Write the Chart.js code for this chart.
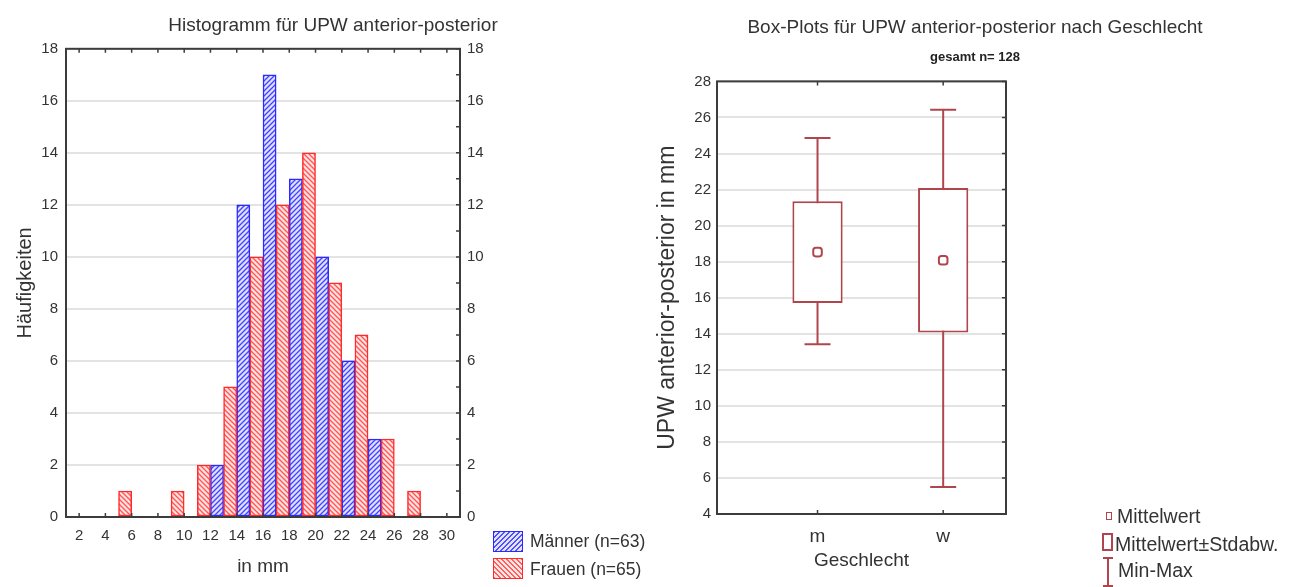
<!DOCTYPE html>
<html>
<head>
<meta charset="utf-8">
<script src="https://cdn.jsdelivr.net/npm/chart.js@4.4.1/dist/chart.umd.min.js"></script>
<style>
  html, body { margin: 0; padding: 0; background: #fff; overflow: hidden; }
  #wrap { position: relative; width: 1289px; height: 587px; overflow: hidden;
          font-family: 'Liberation Sans', Arial, sans-serif; color: #333; }
  #c1 { position: absolute; left: 0; top: 0; }
  #c2 { position: absolute; left: 650px; top: 0; }
  .lg { position: absolute; white-space: nowrap; line-height: 1; }
  .hicon { position: absolute; box-sizing: border-box; width: 30px; height: 21px; }
  .hblue { border: 1.5px solid #2a2aff;
           background: repeating-linear-gradient(-45deg, #5050ff 0 1.4px, #e2e2ff 1.4px 3.6px); }
  .hred  { border: 1.5px solid #ff2a2a;
           background: repeating-linear-gradient(45deg, #ff6060 0 1.4px, #ffe4e4 1.4px 3.6px); }
</style>
</head>
<body>
<div id="wrap">
  <canvas id="c1" width="666" height="587"></canvas>
  <canvas id="c2" width="650" height="587"></canvas>

  <!-- histogram legend -->
  <div class="hicon hblue" style="left:493px; top:531px;"></div>
  <div class="lg" style="left:530px; top:533px; font-size:17.5px;">Männer (n=63)</div>
  <div class="hicon hred" style="left:493px; top:558px;"></div>
  <div class="lg" style="left:530px; top:561px; font-size:17.5px;">Frauen (n=65)</div>

  <!-- box plot legend -->
  <div style="position:absolute; left:1106px; top:512px; width:6px; height:8px; box-sizing:border-box; border:1.8px solid #b0454d;"></div>
  <div class="lg" style="left:1117px; top:507px; font-size:19.5px;">Mittelwert</div>
  <div style="position:absolute; left:1102px; top:533px; width:11px; height:18px; box-sizing:border-box; border:2px solid #b0454d;"></div>
  <div class="lg" style="left:1115px; top:535px; font-size:19.5px;">Mittelwert±Stdabw.</div>
  <svg style="position:absolute; left:1101px; top:556px;" width="14" height="31">
    <path d="M2 2 H12 M7 2 V30 M2 30 H12" stroke="#b0454d" stroke-width="2" fill="none"/>
  </svg>
  <div class="lg" style="left:1118px; top:561px; font-size:19.5px;">Min-Max</div>
</div>

<script>
// ---------------- data ----------------
const histCategories = [2, 4, 6, 8, 10, 12, 14, 16, 18, 20, 22, 24, 26, 28, 30];
const frauenCounts   = [0, 0, 1, 0, 1, 2, 5, 10, 12, 14, 9, 7, 3, 1, 0];
const maennerCounts  = [0, 0, 0, 0, 0, 2, 12, 17, 13, 10, 6, 3, 0, 0, 0];
const histSeriesNames = ['Frauen (n=65)', 'Männer (n=63)'];

const boxGroups  = ['m', 'w'];
const boxMean    = [18.53, 18.08];
const boxSdLow   = [15.71, 14.07];
const boxSdHigh  = [21.35, 22.09];
const boxMin     = [13.42, 5.50];
const boxMax     = [24.86, 26.43];

// ---------------- common ----------------
Chart.defaults.font.family = "'Liberation Sans', Arial, sans-serif";
Chart.defaults.color = '#333';
const TXT = '#333';
const FRAME = '#3c3c3c';
const GRID = '#e3e3e3';
const BOX = '#b0454d';

function hatch(ctxTarget, line, bg, dir) {
  const s = 5;
  const c = document.createElement('canvas');
  c.width = s; c.height = s;
  const g = c.getContext('2d');
  g.fillStyle = bg; g.fillRect(0, 0, s, s);
  g.strokeStyle = line; g.lineWidth = 1.35;
  g.beginPath();
  if (dir > 0) {           // '/'
    g.moveTo(-1, s + 1); g.lineTo(s + 1, -1);
    g.moveTo(-1, 1); g.lineTo(1, -1);
    g.moveTo(s - 1, s + 1); g.lineTo(s + 1, s - 1);
  } else {                 // '\'
    g.moveTo(-1, -1); g.lineTo(s + 1, s + 1);
    g.moveTo(s - 1, -1); g.lineTo(s + 1, 1);
    g.moveTo(-1, s - 1); g.lineTo(1, s + 1);
  }
  g.stroke();
  return ctxTarget.createPattern(c, 'repeat');
}

// frame + inward tick marks around the plot area
const framePlugin = {
  id: 'frame',
  afterDatasetsDraw(chart, args, opts) {
    const { ctx, chartArea: a } = chart;
    ctx.save();
    ctx.strokeStyle = FRAME;
    ctx.lineWidth = 2;
    ctx.strokeRect(a.left, a.top, a.right - a.left, a.bottom - a.top);
    ctx.lineWidth = 1.5;
    ctx.beginPath();
    const xs = chart.scales.x;
    xs.ticks.forEach((t, i) => {
      const px = xs.getPixelForTick(i);
      ctx.moveTo(px, a.top); ctx.lineTo(px, a.top + 4);
      ctx.moveTo(px, a.bottom); ctx.lineTo(px, a.bottom - 4);
    });
    const ys = chart.scales.y;
    const step = opts.yMinorStep || 2;
    for (let v = ys.min; v <= ys.max + 1e-9; v += step) {
      const py = ys.getPixelForValue(v);
      ctx.moveTo(a.right, py); ctx.lineTo(a.right - 4, py);
    }
    ctx.stroke();
    ctx.restore();
  }
};

// ---------------- histogram ----------------
const c1 = document.getElementById('c1');
const ctx1 = c1.getContext('2d');
const bluePat = hatch(ctx1, '#4444ff', '#e0e0ff', 1);
const redPat  = hatch(ctx1, '#ff5555', '#ffe2e2', -1);

new Chart(c1, {
  type: 'bar',
  data: {
    labels: histCategories,
    datasets: [
      {
        label: histSeriesNames[0], data: frauenCounts,
        backgroundColor: redPat, borderColor: '#ff2a2a',
        borderWidth: c => (c.raw ? 1.5 : 0), borderSkipped: false,
        categoryPercentage: 1, barPercentage: 1
      },
      {
        label: histSeriesNames[1], data: maennerCounts,
        backgroundColor: bluePat, borderColor: '#2a2aff',
        borderWidth: c => (c.raw ? 1.5 : 0), borderSkipped: false,
        categoryPercentage: 1, barPercentage: 1
      }
    ]
  },
  options: {
    responsive: false, animation: false, devicePixelRatio: 1, events: [],
    layout: { padding: 0 },
    plugins: {
      legend: { display: false },
      tooltip: { enabled: false },
      title: {
        display: true, text: 'Histogramm für UPW anterior-posterior',
        color: TXT, font: { size: 19, weight: 'normal' },
        padding: { top: 14, bottom: 12 }
      },
      frame: { yMinorStep: 1 }
    },
    scales: {
      x: {
        type: 'category', offset: true,
        grid: { display: false, drawTicks: false },
        border: { display: false },
        ticks: { color: TXT, font: { size: 15 }, padding: 10, maxRotation: 0, autoSkip: false },
        title: { display: true, text: 'in mm', color: TXT, font: { size: 19 }, padding: { top: 0, bottom: 9 } },
        afterFit: s => { s.height = 70; }
      },
      y: {
        position: 'left', min: 0, max: 18,
        grid: { color: GRID, lineWidth: 2, drawTicks: false },
        border: { display: false },
        ticks: { stepSize: 2, color: TXT, font: { size: 15 }, padding: 8 },
        title: { display: true, text: 'Häufigkeiten', color: TXT, font: { size: 20 }, padding: { top: 13, bottom: 0 } },
        afterFit: s => { s.width = 66; }
      },
      y2: {
        position: 'right', min: 0, max: 18,
        grid: { drawOnChartArea: false, drawTicks: false },
        border: { display: false },
        ticks: { stepSize: 2, color: TXT, font: { size: 15 }, padding: 7 },
        afterFit: s => { s.width = 206; }
      }
    }
  },
  plugins: [framePlugin]
});

// ---------------- box plot ----------------
const boxCenters = boxGroups.map((g, i) => i + 1);
const whiskerData = boxCenters.flatMap((x, i) => {
  const seg = [{ x, y: boxMin[i] }, { x, y: boxMax[i] }];
  return i < boxCenters.length - 1 ? seg.concat([{ x: x + 0.5, y: null }]) : seg;
});

new Chart(document.getElementById('c2'), {
  type: 'bar',
  data: {
    datasets: [
      {
        type: 'bar', label: 'Mittelwert±Stdabw.',
        data: boxCenters.map((x, i) => ({ x, y: [boxSdLow[i], boxSdHigh[i]] })),
        backgroundColor: '#ffffff', borderColor: BOX, borderWidth: 2, borderSkipped: false,
        categoryPercentage: 1, barPercentage: 0.4, order: 2
      },
      {
        type: 'scatter', label: 'Min-Max', data: whiskerData,
        showLine: true, spanGaps: false, borderColor: BOX, borderWidth: 2,
        pointRadius: 0, order: 3
      },
      {
        type: 'scatter', label: 'Min-Max caps',
        data: boxCenters.flatMap((x, i) => [{ x, y: boxMin[i] }, { x, y: boxMax[i] }]),
        showLine: false, pointStyle: 'line', pointRadius: 13,
        pointBorderColor: BOX, pointBorderWidth: 2, order: 1
      },
      {
        type: 'scatter', label: 'Mittelwert',
        data: boxCenters.map((x, i) => ({ x, y: boxMean[i] })),
        showLine: false, pointStyle: 'rectRounded', pointRadius: 5,
        pointBackgroundColor: '#ffffff', pointBorderColor: BOX, pointBorderWidth: 2, order: 0
      }
    ]
  },
  options: {
    responsive: false, animation: false, devicePixelRatio: 1, events: [],
    layout: { padding: 0 },
    plugins: {
      legend: { display: false },
      tooltip: { enabled: false },
      title: {
        display: true, text: 'Box-Plots für UPW anterior-posterior nach Geschlecht',
        color: TXT, font: { size: 19, weight: 'normal' },
        padding: { top: 16, bottom: 6 }
      },
      subtitle: {
        display: true, text: 'gesamt n= 128',
        color: '#222', font: { size: 13, weight: 'bold' },
        padding: { top: 5, bottom: 16 }
      },
      frame: { yMinorStep: 2 }
    },
    scales: {
      x: {
        type: 'linear', min: 0.2, max: 2.5, offset: false,
        grid: { display: false, drawTicks: false },
        border: { display: false },
        afterBuildTicks: s => { s.ticks = boxCenters.map(v => ({ value: v })); },
        ticks: { color: TXT, font: { size: 19 }, padding: 11, autoSkip: false, maxRotation: 0,
                 callback: (v, i) => boxGroups[i] },
        title: { display: true, text: 'Geschlecht', color: TXT, font: { size: 19 }, padding: { top: 0, bottom: 15 } },
        afterFit: s => { s.height = 73; }
      },
      y: {
        position: 'left', min: 4, max: 28,
        grid: { color: GRID, lineWidth: 2, drawTicks: false },
        border: { display: false },
        ticks: { stepSize: 2, color: TXT, font: { size: 15 }, padding: 6 },
        title: { display: true, text: 'UPW anterior-posterior in mm', color: TXT, font: { size: 23 }, padding: { top: 4, bottom: 0 } },
        afterFit: s => { s.width = 67; }
      },
      y2: {
        position: 'right', min: 4, max: 28,
        grid: { drawOnChartArea: false, drawTicks: false },
        border: { display: false },
        ticks: { display: false },
        afterFit: s => { s.width = 294; }
      }
    }
  },
  plugins: [framePlugin]
});
</script>
</body>
</html>
